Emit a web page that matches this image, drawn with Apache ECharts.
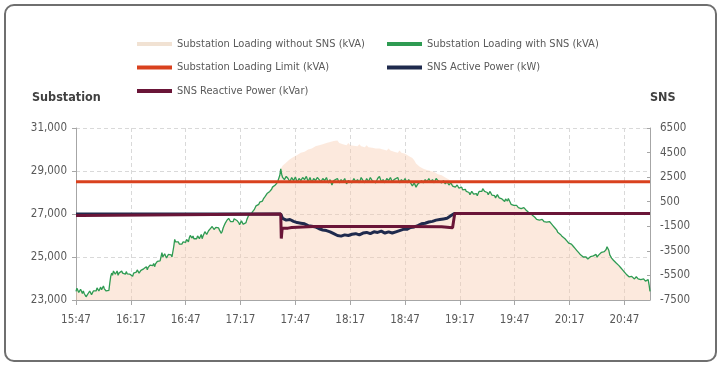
<!DOCTYPE html>
<html><head><meta charset="utf-8">
<script src="https://cdn.jsdelivr.net/npm/echarts@6/dist/echarts.min.js"></script>
<style>html,body{margin:0;padding:0;background:#fff}#c{width:722px;height:367px}</style>
</head><body><div id="c"></div>
<script>
// ---- data (x = minutes after 15:47) ----
const startMinutes = 15 * 60 + 47;
const xTickMinutes = [0, 30, 60, 90, 120, 150, 180, 210, 240, 270, 300];
const leftTicks = [23000, 25000, 27000, 29000, 31000];
const rightTicks = [-7500, -5500, -3500, -1500, 500, 2500, 4500, 6500];
const seriesNames = ['Substation Loading without SNS (kVA)', 'Substation Loading with SNS (kVA)', 'Substation Loading Limit (kVA)', 'SNS Active Power (kW)', 'SNS Reactive Power (kVar)'];

const withSNS = [[0,23400],[0.5,23550],[1,23450],[1.5,23350],[2,23330],[2.5,23500],[3,23450],[3.5,23300],[4,23420],[4.5,23300],[5,23250],[5.5,23150],[6,23100],[6.5,23280],[7,23300],[7.5,23420],[8,23380],[8.5,23250],[9,23300],[9.5,23420],[10,23350],[10.5,23480],[11,23420],[11.5,23560],[12,23520],[12.5,23420],[13,23480],[13.5,23600],[14,23480],[14.5,23550],[15,23650],[15.5,23520],[16,23560],[16.5,23420],[17,23400],[17.5,23500],[18,23450],[18.5,23800],[19,24100],[19.5,24250],[20,24150],[20.5,24350],[21,24300],[21.5,24200],[22,24250],[22.5,24350],[23,24150],[23.5,24250],[24,24180],[24.5,24300],[25,24350],[25.5,24250],[26,24300],[26.5,24180],[27,24200],[27.5,24320],[28,24220],[28.5,24150],[29,24300],[29.5,24200],[30,24260],[30.5,24150],[31,24100],[31.5,24250],[32,24180],[32.5,24320],[33,24300],[33.5,24400],[34,24350],[34.5,24250],[35,24250],[35.5,24380],[36,24300],[36.5,24420],[37,24450],[37.5,24380],[38,24460],[38.5,24550],[39,24400],[39.5,24520],[40,24520],[40.5,24620],[41,24650],[41.5,24550],[42,24600],[42.5,24700],[43,24550],[43.5,24680],[44,24700],[44.5,24800],[45,24850],[45.5,24750],[46,24820],[46.5,25000],[47,25200],[47.5,25000],[48,25050],[48.5,25150],[49,25100],[49.5,24950],[50,24980],[50.5,25120],[51,25050],[51.5,25150],[52,25100],[52.5,25000],[53,25050],[53.5,25500],[54,25820],[54.5,25700],[55,25750],[55.5,25650],[56,25700],[56.5,25600],[57,25550],[57.5,25680],[58,25600],[58.5,25700],[59,25750],[59.5,25650],[60,25680],[60.5,25820],[61,25800],[61.5,25700],[62,25900],[62.5,26000],[63,26000],[63.5,25880],[64,25980],[64.5,25850],[65,25800],[65.5,25900],[66,25850],[66.5,25980],[67,25950],[67.5,25850],[68,25920],[68.5,26050],[69,25850],[69.5,25980],[70,26050],[70.5,26180],[71,26150],[71.5,26050],[72,26100],[72.5,26220],[73,26200],[73.5,26320],[74,26300],[74.5,26420],[75,26400],[75.5,26280],[76,26250],[76.5,26380],[77,26300],[77.5,26420],[78,26350],[78.5,26250],[79,26200],[79.5,26100],[80,26200],[80.5,26350],[81,26450],[81.5,26550],[82,26600],[82.5,26700],[83,26700],[83.5,26800],[84,26750],[84.5,26650],[85,26600],[85.5,26720],[86,26650],[86.5,26780],[87,26800],[87.5,26700],[88,26700],[88.5,26620],[89,26600],[89.5,26500],[90,26550],[90.5,26680],[91,26650],[91.5,26520],[92,26450],[92.5,26550],[93,26600],[93.5,26750],[94,26850],[94.5,26950],[95,26900],[95.5,27000],[96,27000],[96.5,27100],[97,27150],[97.5,27200],[98,27250],[98.5,27380],[99,27350],[99.5,27450],[100,27450],[100.5,27550],[101,27500],[101.5,27620],[102,27600],[102.5,27700],[103,27750],[103.5,27820],[104,27850],[104.5,27950],[105,27900],[105.5,28000],[106,28050],[106.5,28120],[107,28150],[107.5,28250],[108,28200],[108.5,28300],[109,28350],[109.5,28400],[110,28450],[110.5,28550],[111,28600],[111.5,28800],[112,29100],[112.5,28850],[113,28700],
[114,28600],[115,28750],[116,28650],[117,28500],[118,28700],[119,28550],[120,28720],[121,28480],[122,28650],[123,28550],[124,28700],[125,28600],[126,28750],[127,28500],[128,28700],[129,28450],[130,28650],[131,28550],[132,28700],[133,28600],[134,28500],[135,28650],[136,28550],[137,28700],[138,28450],[139,28600],[140,28350],[141,28550],[142,28500],[143,28650],[144,28450],[145,28600],[146,28500],[147,28650],[148,28400],[149,28550],[150,28600],[151,28450],[152,28650],[153,28500],[154,28600],[155,28450],[156,28700],[157,28550],[158,28450],[159,28650],[160,28500],[161,28700],[162,28550],[163,28600],[164,28450],[165,28650],[166,28750],[167,28500],[168,28600],[169,28450],[170,28650],[171,28550],[172,28700],[173,28500],[174,28600],[175,28550],[176,28700],[177,28450],[178,28600],[179,28500],[180,28650],[181,28450],[182,28600],[183,28550],[184,28300],[185,28450],[186,28250],[187,28400],[188,28350],[189,28550],[190,28450],[191,28600],[192,28500],[193,28650],[194,28500],[195,28600],[196,28450],[197,28650],[198,28550],[199,28600],[200,28450],[201,28550],[202,28400],[203,28500],[204,28350],[205,28450],[206,28300],
[207,28350],[207.5,28250],[208,28250],[208.5,28350],[209,28300],[209.5,28200],[210,28150],[210.5,28280],[211,28250],[211.5,28120],[212,28050],[212.5,28180],[213,28150],[213.5,28050],[214,28100],[214.5,27980],[215,28000],[215.5,27900],[216,27950],[216.5,28050],[217,28050],[217.5,27920],[218,27880],[218.5,27980],[219,27950],[219.5,27850],[220,27950],[220.5,28050],[221,28100],[221.5,28000],[222,28050],[222.5,28180],[223,28150],[223.5,28050],[224,28100],[224.5,28000],[225,28000],[225.5,27900],[226,27950],[226.5,28050],[227,28000],[227.5,27880],[228,27900],[228.5,27820],[229,27850],[229.5,27750],[230,27800],[230.5,27900],[231,27850],[231.5,27750],[232,27750],[232.5,27680],[233,27700],[233.5,27620],[234,27650],[234.5,27580],[235,27700],[235.5,27620],[236,27600],[236.5,27720],[237,27700],[237.5,27550],[238,27450],[238.5,27520],[239,27500],[239.5,27400],[240,27380],[240.5,27450],[241,27400],[241.5,27320],[242,27300],[242.5,27380],[243,27350],[243.5,27250],[244,27250],[244.5,27180],[245,27300],[245.5,27220],[246,27200],[246.5,27250],[247,27150],[247.5,27080],[248,27100],[248.5,27050],[249,27050],[249.5,26950],[250,26950],[250.5,26880],[251,26850],[251.5,26780],[252,26750],[252.5,26820],[253,26800],[253.5,26720],[254,26700],[254.5,26780],[255,26750],[255.5,26680],[256,26650],[256.5,26720],[257,26700],[257.5,26620],[258,26600],[258.5,26680],[259,26650],[259.5,26580],[260,26550],[260.5,26480],[261,26450],[261.5,26380],[262,26350],[262.5,26300],[263,26250],[263.5,26150],[264,26100],[264.5,26080],[265,26050],[265.5,25980],[266,25950],[266.5,25920],[267,25900],[267.5,25850],[268,25800],[268.5,25750],[269,25700],[269.5,25650],[270,25600],[270.5,25650],[271,25600],[271.5,25550],[272,25500],[272.5,25450],[273,25400],[273.5,25350],[274,25300],[274.5,25250],[275,25200],[275.5,25150],[276,25100],[276.5,25080],[277,25050],[277.5,25000],[278,24950],[278.5,24920],[279,25000],[279.5,24950],[280,24900],[280.5,24980],[281,24950],[281.5,25020],[282,25000],[282.5,25080],[283,25050],[283.5,25000],[284,25050],[284.5,25120],[285,25000],[285.5,25080],[286,25100],[286.5,25180],[287,25150],[287.5,25220],[288,25200],[288.5,25300],[289,25250],[289.5,25320],[290,25350],[290.5,25480],[291,25450],[291.5,25300],[292,25100],[292.5,25020],[293,24950],[293.5,24900],[294,24850],[294.5,24820],[295,24800],[295.5,24720],[296,24700],[296.5,24650],[297,24600],[297.5,24550],[298,24500],[298.5,24450],[299,24400],[299.5,24350],[300,24300],[300.5,24250],[301,24200],[301.5,24180],[302,24150],[302.5,24080],[303,24050],[303.5,24120],[304,24100],[304.5,24020],[305,24050],[305.5,23980],[306,24000],[306.5,24080],[307,24050],[307.5,23980],[308,23950],[308.5,24020],[309,23950],[309.5,23880],[310,23900],[310.5,23980],[311,23950],[311.5,23880],[312,23850],[312.5,23920],[313,23950],[313.5,23700],[314,23400]];

const withoutSNSPeak = [[112,29100],[113,29250],[114,29200],[115,29400],[116,29350],[117,29550],[118,29500],[119,29650],[120,29600],[121,29750],[122,29700],[123,29850],[124,29800],[125,29900],[126,29850],[127,30000],[128,29950],[129,30050],[130,30000],[131,30150],[132,30100],[133,30200],[134,30150],[135,30250],[136,30200],[137,30300],[138,30250],[139,30350],[140,30300],[141,30400],[142,30350],[143,30420],[144,30300],[145,30380],[146,30250],[147,30320],[148,30200],[149,30300],[150,30200],[151,30280],[152,30180],[153,30250],[154,30150],[155,30250],[156,30150],[157,30220],[158,30100],[159,30200],[160,30100],[161,30180],[162,30080],[163,30150],[164,30050],[165,30120],[166,30050],[167,30100],[168,30000],[169,30080],[170,29950],[171,30050],[172,29950],[173,30000],[174,29900],[175,29980],[176,29850],[177,29950],[178,29850],[179,29900],[180,29800],[181,29850],[182,29700],[183,29750],[184,29600],[185,29500],[186,29350],[187,29300],[188,29200],[189,29250],[190,29100],[191,29150],[192,29050],[193,29100],[194,29000],[195,29050],[196,28950],[197,28950],[198,28850],[199,28900],[200,28800],[201,28800],[202,28700],[203,28700],[204,28600],[205,28550],[206,28450],[207,28400],[208,28250]];

const loadingLimit = [[0,28500],[314,28500]];

const activePower = [[0,-500],[112,-500],[113,-850],[115,-1000],[117,-950],[119,-1100],[121,-1200],[123,-1250],[125,-1300],[127,-1450],[129,-1500],[131,-1550],[133,-1700],[135,-1800],[137,-1850],[139,-1950],[141,-2100],[143,-2250],[145,-2300],[147,-2200],[149,-2250],[151,-2150],[153,-2100],[155,-2200],[157,-2050],[159,-2000],[161,-2100],[163,-1950],[165,-2000],[167,-1900],[169,-2050],[171,-1950],[173,-2050],[175,-1950],[177,-1850],[179,-1750],[181,-1750],[183,-1600],[185,-1550],[187,-1450],[189,-1300],[191,-1250],[193,-1150],[195,-1100],[197,-1000],[199,-950],[201,-900],[203,-850],[205,-650],[207,-450],[314,-450]];

const reactivePower = [[0,-620],[3,-620],[3.2,-500],[112,-500],[112.3,-2500],[112.8,-1650],[116,-1650],[118,-1600],[124,-1550],[130,-1520],[180,-1520],[200,-1540],[206,-1620],[207,-1620],[207.2,-450],[314,-450]];

// ---- build ----
const LEFT_BASE = 23000, RIGHT_BASE = -7500;
const withoutSNS = withSNS.filter(p => p[0] < 112)
  .concat(withoutSNSPeak)
  .concat(withSNS.filter(p => p[0] > 208));
const L = arr => arr.map(p => [p[0], p[1] - LEFT_BASE]);
const R = arr => arr.map(p => [p[0], p[1] - RIGHT_BASE]);
const fmtTime = m => { const t = startMinutes + m; const h = Math.floor(t / 60), mm = t % 60; return h + ':' + (mm < 10 ? '0' : '') + mm; };

const FONT = '"Liberation Sans Narrow", "DejaVu Sans Condensed", "Open Sans", sans-serif';
const GREY = '#595959';

const chart = echarts.init(document.getElementById('c'), null, {renderer: 'canvas'});
chart.setOption({
  animation: false,
  textStyle: {fontFamily: FONT},
  graphic: [
    {type: 'rect', shape: {x: 5, y: 5, width: 711, height: 356, r: 9}, style: {fill: 'none', stroke: '#6f6f6f', lineWidth: 2}},
    {type: 'text', left: 32, top: 91, style: {text: 'Substation', font: 'bold 12.5px ' + FONT, fill: '#404040'}},
    {type: 'text', left: 650, top: 91, style: {text: 'SNS', font: 'bold 12.5px ' + FONT, fill: '#404040'}}
  ],
  legend: [
    {left: 132, top: 32, orient: 'vertical', itemWidth: 35, itemHeight: 4, itemGap: 9.5, icon: 'rect',
     data: [seriesNames[0], seriesNames[2], seriesNames[4]], textStyle: {color: GREY, fontSize: 11, lineHeight: 14, fontFamily: FONT}},
    {left: 382, top: 32, orient: 'vertical', itemWidth: 35, itemHeight: 4, itemGap: 9.5, icon: 'rect',
     data: [seriesNames[1], seriesNames[3]], textStyle: {color: GREY, fontSize: 11, lineHeight: 14, fontFamily: FONT}}
  ],
  grid: {left: 76, right: 72, top: 128, bottom: 67},
  xAxis: {
    type: 'value', min: 0, max: 314, interval: 30,
    axisLine: {lineStyle: {color: '#a6a6a6'}},
    axisTick: {show: true, length: 5, lineStyle: {color: '#a6a6a6'}},
    axisLabel: {color: GREY, fontSize: 11.5, margin: 14, showMaxLabel: false,
      formatter: v => xTickMinutes.indexOf(v) >= 0 ? fmtTime(v) : ''},
    splitLine: {show: true, lineStyle: {color: '#d9d9d9', type: [4, 3]}}
  },
  yAxis: [
    {type: 'value', min: 0, max: 8000, interval: 2000, position: 'left',
     axisLine: {show: true, lineStyle: {color: '#a6a6a6'}},
     axisTick: {show: true, length: 4, lineStyle: {color: '#a6a6a6'}},
     axisLabel: {color: GREY, fontSize: 11.5, margin: 9,
       formatter: v => (v + LEFT_BASE).toLocaleString('en-US')},
     splitLine: {show: true, lineStyle: {color: '#d9d9d9', type: [4, 3]}}},
    {type: 'value', min: 0, max: 14000, interval: 2000, position: 'right',
     axisLine: {show: true, lineStyle: {color: '#a6a6a6'}},
     axisTick: {show: true, inside: true, length: 3, lineStyle: {color: '#a6a6a6'}},
     axisLabel: {color: GREY, fontSize: 11.5, margin: 10,
       formatter: v => String(v + RIGHT_BASE)},
     splitLine: {show: false}}
  ],
  series: [
    {name: seriesNames[0], type: 'line', yAxisIndex: 0, data: L(withoutSNS), showSymbol: false,
     color: '#f1e2d3', lineStyle: {width: 0}, areaStyle: {color: 'rgba(248,203,173,0.6)', origin: 'start'}, z: 1},
    {name: seriesNames[1], type: 'line', yAxisIndex: 0, data: L(withSNS), showSymbol: false,
     color: '#2e9b52', lineStyle: {width: 1.3}, z: 3},
    {name: seriesNames[2], type: 'line', yAxisIndex: 0, data: L(loadingLimit), showSymbol: false,
     color: '#d9411e', lineStyle: {width: 3}, z: 4},
    {name: seriesNames[3], type: 'line', yAxisIndex: 1, data: R(activePower), showSymbol: false,
     color: '#1f2a4d', lineStyle: {width: 3}, z: 5},
    {name: seriesNames[4], type: 'line', yAxisIndex: 1, data: R(reactivePower), showSymbol: false,
     color: '#6a1538', lineStyle: {width: 3}, z: 6}
  ]
});
</script></body></html>
